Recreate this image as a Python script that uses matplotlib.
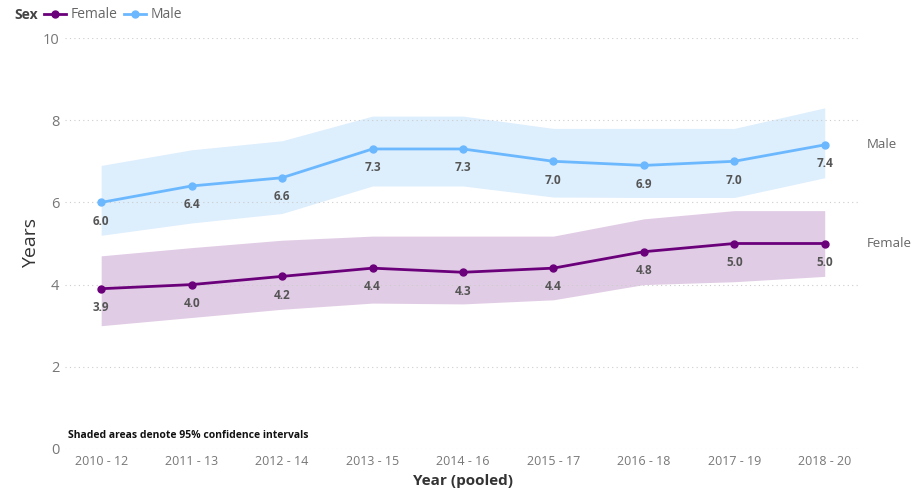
import numpy as np
import matplotlib.pyplot as plt
from matplotlib.lines import Line2D

plt.rcParams['font.family'] = ['Open Sans', 'DejaVu Sans']

years = ['2010 - 12', '2011 - 13', '2012 - 14', '2013 - 15', '2014 - 16',
         '2015 - 17', '2016 - 18', '2017 - 19', '2018 - 20']

female = [3.9, 4.0, 4.2, 4.4, 4.3, 4.4, 4.8, 5.0, 5.0]
female_lo = [3.0, 3.2, 3.4, 3.55, 3.53, 3.63, 4.0, 4.07, 4.2]
female_hi = [4.7, 4.9, 5.08, 5.18, 5.18, 5.18, 5.6, 5.8, 5.8]

male = [6.0, 6.4, 6.6, 7.3, 7.3, 7.0, 6.9, 7.0, 7.4]
male_lo = [5.2, 5.5, 5.73, 6.4, 6.4, 6.13, 6.12, 6.12, 6.6]
male_hi = [6.9, 7.28, 7.5, 8.1, 8.1, 7.8, 7.8, 7.8, 8.3]

c_female = '#6B007B'
c_male = '#6CB8FF'
band_female = '#E1CCE5'
band_male = '#DDEEFD'

fig = plt.figure(figsize=(9.13, 4.91), dpi=100)
ax = fig.add_axes([65 / 913, 1 - 449 / 491, 795 / 913, 411 / 491])

x = np.arange(len(years))

ax.fill_between(x, male_lo, male_hi, color=band_male, lw=0, zorder=1)
ax.fill_between(x, female_lo, female_hi, color=band_female, lw=0, zorder=1)
ax.plot(x, male, color=c_male, lw=2, marker='o', ms=5, zorder=3)
ax.plot(x, female, color=c_female, lw=2, marker='o', ms=5, zorder=3)

# value labels sit just under each point
for xs, ys in ((x, male), (x, female)):
    for xi, yi in zip(xs, ys):
        ax.annotate(f'{yi:.1f}', (xi, yi), xytext=(0, -13.5), textcoords='offset points',
                    ha='center', va='center', fontsize=8.5, fontweight='bold', color='#555555')

# series names at the right end
ax.annotate('Male', (x[-1], male[-1]), xytext=(30, 0), textcoords='offset points',
            ha='left', va='center', fontsize=9.5, color='#666666', annotation_clip=False)
ax.annotate('Female', (x[-1], female[-1]), xytext=(30, 0), textcoords='offset points',
            ha='left', va='center', fontsize=9.5, color='#666666', annotation_clip=False)

ax.set_xlim(-0.40, 8.39)
ax.set_ylim(0, 10)
ax.set_yticks([0, 2, 4, 6, 8, 10])
ax.set_xticks(x)
ax.set_xticklabels(years)
ax.tick_params(axis='both', length=0, labelsize=9, colors='#777777')
ax.tick_params(axis='y', labelsize=10.5, pad=4)
ax.tick_params(axis='x', pad=4)
ax.grid(axis='y', color='#cccccc', linestyle=(0, (1, 3)), lw=0.8)
for s in ax.spines.values():
    s.set_visible(False)

ax.set_ylabel('Years', fontsize=14, color='#333333', labelpad=2)
ax.set_xlabel('Year (pooled)', fontsize=11, fontweight='bold', color='#333333', labelpad=5)

ax.text(0.004, 0.02, 'Shaded areas denote 95% confidence intervals', transform=ax.transAxes,
        fontsize=7.5, fontweight='bold', color='#111111', ha='left', va='bottom')

# legend across the top
handles = [Line2D([], [], color=c_female, lw=2, marker='o', ms=5),
           Line2D([], [], color=c_male, lw=2, marker='o', ms=5)]
fig.text(14 / 913, 1 - 15 / 491, 'Sex', fontsize=10, fontweight='bold', color='#444444',
         ha='left', va='center')
fig.legend(handles, ['Female', 'Male'], loc='center left', bbox_to_anchor=(44 / 913, 1 - 15 / 491),
           ncol=2, frameon=False, fontsize=10, handlelength=1.6, handletextpad=0.3,
           columnspacing=0.5, labelcolor='#666666', borderaxespad=0, borderpad=0)

fig.savefig('out.png', dpi=100)
